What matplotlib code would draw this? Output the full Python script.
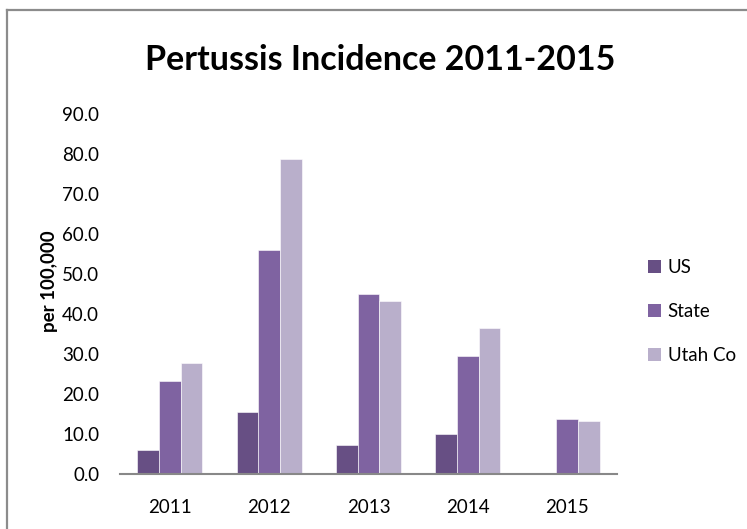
import numpy as np
import matplotlib.pyplot as plt
from matplotlib.lines import Line2D
from matplotlib.patches import Patch

years = ['2011', '2012', '2013', '2014', '2015']
us = [6.0, 15.5, 7.3, 10.0, np.nan]
state = [23.3, 56.0, 45.0, 29.6, 13.7]
utah_co = [27.8, 78.8, 43.2, 36.4, 13.2]

series_names = ['US', 'State', 'Utah Co']
colors = ['#674f84', '#7f63a1', '#b9afcb']

plt.rcParams['font.family'] = ['Lato', 'DejaVu Sans']

W, H = 747, 529
fig = plt.figure(figsize=(W / 100, H / 100), dpi=100)
ax = fig.add_axes([120 / W, 1 - 474 / H, (617 - 120) / W, (474 - 114) / H])

x = np.arange(len(years))
width = 0.218
for i, (vals, name, c) in enumerate(zip([us, state, utah_co], series_names, colors)):
    ax.bar(x + (i - 1) * width, vals, width, color=c, label=name,
           edgecolor='white', linewidth=0.4)

ax.set_xlim(-0.5, len(years) - 0.5)
ax.set_ylim(0, 90)
ax.set_yticks(np.arange(0, 91, 10))
ax.set_yticklabels([f'{v:.1f}' for v in np.arange(0, 91, 10)], fontsize=13.5)
ax.set_xticks(x)
ax.set_xticklabels(years, fontsize=13.5)
ax.tick_params(axis='both', length=0)
ax.tick_params(axis='y', pad=15)
ax.tick_params(axis='x', pad=18)

for s in ['top', 'right', 'left']:
    ax.spines[s].set_visible(False)
ax.spines['bottom'].set_color('#888888')
ax.spines['bottom'].set_linewidth(1.5)

# title and y label
fig.text(380 / W, 1 - 70 / H, 'Pertussis Incidence 2011-2015', ha='center',
         va='baseline', fontsize=24.5, fontweight='bold')
fig.text(50 / W, 1 - 281 / H, 'per 100,000', rotation=90, ha='center',
         va='center', fontsize=13.5, fontweight='bold')

# legend
handles = [Patch(facecolor=c, edgecolor='none') for c in colors]
fig.legend(handles, series_names, loc='upper left',
           bbox_to_anchor=(631 / W, 1 - 242 / H), frameon=False,
           fontsize=13.5, handlelength=0.7, handleheight=0.7,
           handletextpad=0.35, labelspacing=1.45)

# chart border
fig.add_artist(Line2D([7 / W, 7 / W], [0, 1 - 10 / H], color='#8c8c8c', lw=1.6))
fig.add_artist(Line2D([7 / W, 1], [1 - 10 / H, 1 - 10 / H], color='#8c8c8c', lw=1.6))

fig.savefig('out.png', dpi=100)
